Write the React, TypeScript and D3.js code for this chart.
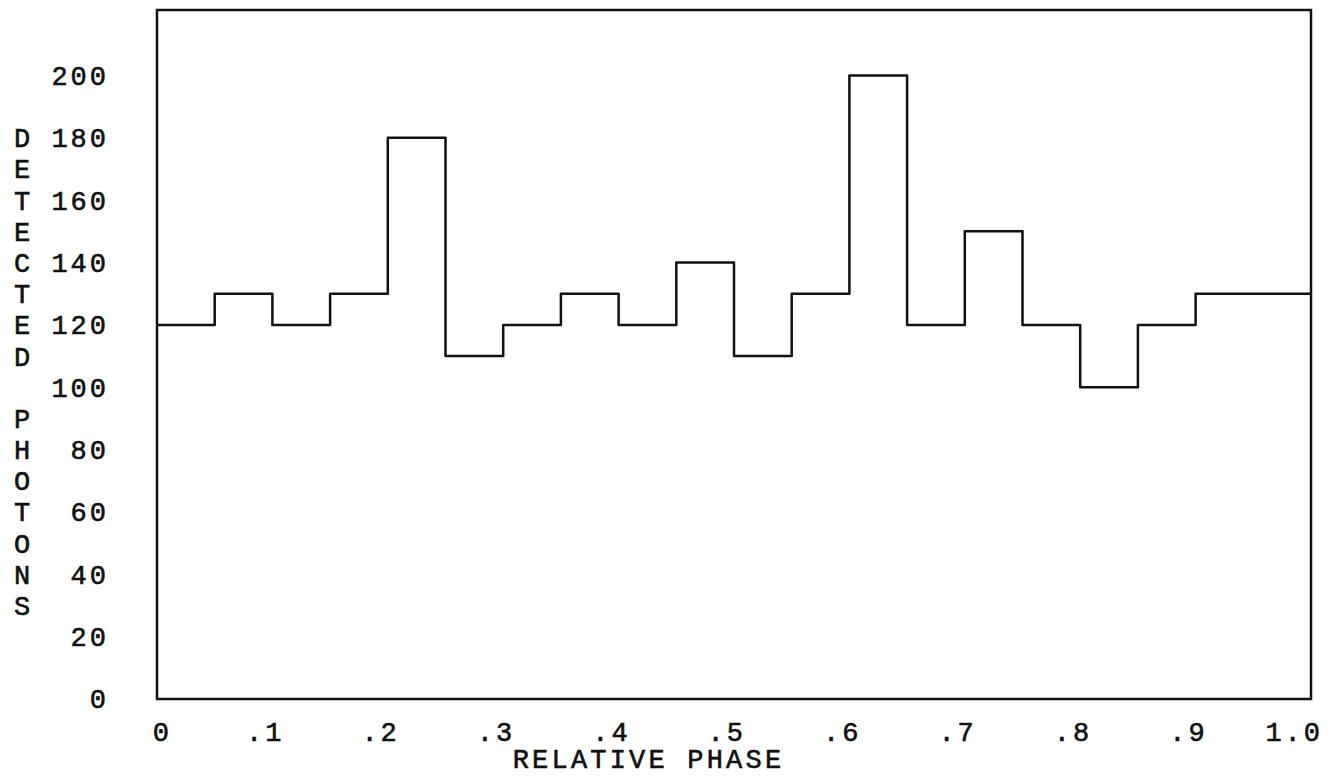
import React, { useEffect, useRef } from 'react';
import * as d3 from 'd3';

// bin starts (relative phase) and counts
const PHASES = [0, 0.05, 0.1, 0.15, 0.2, 0.25, 0.3, 0.35, 0.4, 0.45, 0.5, 0.55, 0.6, 0.65, 0.7, 0.75, 0.8, 0.85, 0.9, 0.95, 1.0];
const COUNTS = [120, 130, 120, 130, 180, 110, 120, 130, 120, 140, 110, 130, 200, 120, 150, 120, 100, 120, 130, 130, 130];
const X_TICKS = [0, 0.1, 0.2, 0.3, 0.4, 0.5, 0.6, 0.7, 0.8, 0.9, 1.0];
const X_LABELS = ['0', '.1', '.2', '.3', '.4', '.5', '.6', '.7', '.8', '.9', '1.0'];
const Y_TICKS = [0, 20, 40, 60, 80, 100, 120, 140, 160, 180, 200];
const Y_TITLE = 'DETECTED PHOTONS';

const FONT = '"Liberation Mono", "DejaVu Sans Mono", monospace';
const INK = '#111';
const SPACING = 3;

const App: React.FC = () => {
  const svgRef = useRef<SVGSVGElement>(null);

  useEffect(() => {
    document.body.style.margin = '0';
    if (!svgRef.current) return;
    const svg = d3.select(svgRef.current);
    svg.selectAll('*').remove();

    const width = 1338;
    const height = 776;
    const left = 157, right = 1311, top = 10, bottom = 699;

    const x = d3.scaleLinear().domain([0, 1]).range([left, right]);
    const y = d3.scaleLinear().domain([0, 221]).range([bottom, top]);

    svg.append('rect').attr('width', width).attr('height', height).attr('fill', '#fff');

    // frame
    svg.append('rect')
      .attr('x', left).attr('y', top)
      .attr('width', right - left).attr('height', bottom - top)
      .attr('fill', 'none').attr('stroke', INK).attr('stroke-width', 2.5);

    // histogram step line
    const line = d3.line<number>()
      .x((_, i) => x(PHASES[i]))
      .y(d => y(d))
      .curve(d3.curveStepAfter);

    svg.append('path')
      .datum(COUNTS)
      .attr('d', line)
      .attr('fill', 'none')
      .attr('stroke', INK)
      .attr('stroke-width', 2.5)
      .attr('stroke-linejoin', 'round');

    const txt = (sel: d3.Selection<SVGTextElement, any, any, any>) =>
      sel.attr('font-family', FONT)
        .attr('font-size', 27)
        .attr('letter-spacing', SPACING)
        .attr('fill', INK)
        .attr('stroke', INK)
        .attr('stroke-width', 0.6);

    // y tick labels
    svg.append('g')
      .selectAll('text')
      .data(Y_TICKS)
      .enter()
      .append('text')
      .attr('x', 106 + SPACING)
      .attr('y', d => y(d))
      .attr('dy', '0.35em')
      .attr('text-anchor', 'end')
      .call(txt)
      .text(d => String(d));

    // x tick labels: last character sits on the tick
    svg.append('g')
      .selectAll('text')
      .data(X_TICKS)
      .enter()
      .append('text')
      .attr('x', (d, i) => x(d) + (i === 0 ? 12 : 9) + SPACING)
      .attr('y', 741)
      .attr('text-anchor', 'end')
      .call(txt)
      .text((_, i) => X_LABELS[i]);

    // x title
    svg.append('text')
      .attr('x', 647 + SPACING / 2)
      .attr('y', 768)
      .attr('text-anchor', 'middle')
      .call(txt)
      .attr('letter-spacing', 3.2)
      .text('RELATIVE PHASE');

    // y title, stacked letters
    const yTitle = svg.append('g');
    Y_TITLE.split('').forEach((ch, i) => {
      yTitle.append('text')
        .attr('x', 22)
        .attr('y', y(180) + i * (y(0) - y(10)))
        .attr('dy', '0.35em')
        .attr('text-anchor', 'middle')
        .call(txt)
        .attr('letter-spacing', 0)
        .text(ch);
    });
  }, []);

  return <svg ref={svgRef} width={1338} height={776} style={{ display: 'block' }} />;
};

export default App;
